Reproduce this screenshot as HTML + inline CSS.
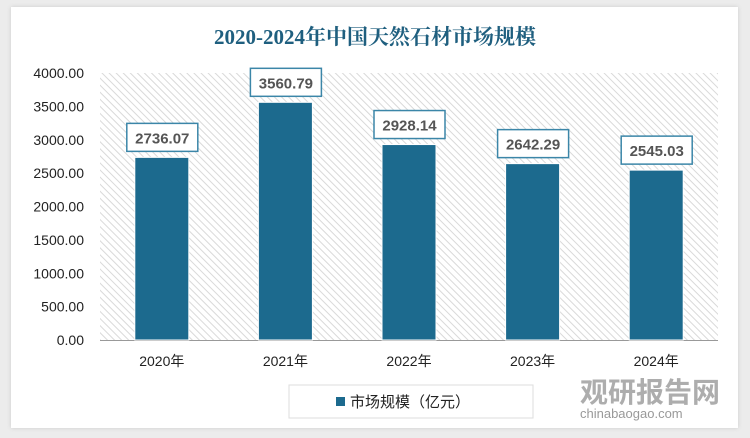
<!DOCTYPE html>
<html><head><meta charset="utf-8"><style>
body{margin:0;width:750px;height:438px;background:#ececec;overflow:hidden;font-family:"Liberation Sans","Noto Sans CJK SC",sans-serif}
#card{position:absolute;left:11px;top:7px;width:727px;height:421px;background:#fff;box-shadow:0 0 4px #ccc}
</style></head><body>
<div id="card"></div>
<svg id="c" width="750" height="438" style="position:absolute;left:0;top:0">
<defs><pattern id="h" width="5" height="5" patternUnits="userSpaceOnUse" patternTransform="rotate(-45)"><rect width="5" height="5" fill="#fff"/><line x1="0" y1="0" x2="0" y2="5" stroke="#d9d9d9" stroke-width="2"/></pattern></defs>
<text x="375" y="44" text-anchor="middle" font-size="21" font-weight="bold" fill="#1f5f7f" font-family="'Liberation Serif','Noto Serif CJK SC',serif">2020-2024年中国天然石材市场规模</text>
<rect x="100" y="73" width="618" height="267" fill="url(#h)"/>
<line x1="100" y1="340.5" x2="718" y2="340.5" stroke="#999"/>
<g id="bars"></g>
<rect x="289" y="385" width="244" height="33" fill="#fff" stroke="#ddd"/>
<rect x="336" y="397" width="9" height="9" fill="#1c6a8e"/>
<text x="350" y="407" font-size="15" fill="#222">市场规模（亿元）</text>
<text x="580" y="402" font-size="28" font-weight="bold" fill="#999" opacity="0.8">观研报告网</text>
<text x="580" y="418" font-size="13" fill="#999">chinabaogao.com</text>
</svg>
<script>
const categories=["2020年","2021年","2022年","2023年","2024年"];
const values=[2736.07,3560.79,2928.14,2642.29,2545.03];
const ticks=[0,500,1000,1500,2000,2500,3000,3500,4000];
const ns="http://www.w3.org/2000/svg";
const svg=document.getElementById('c'),g=document.getElementById('bars');
const y=v=>340-v*267/4000, x0=100, band=618/categories.length;
function mk(t,a,p){const e=document.createElementNS(ns,t);for(const k in a)e.setAttribute(k,a[k]);(p||g).appendChild(e);return e;}
ticks.forEach(t=>{const e=mk('text',{x:84,y:y(t)+5,'text-anchor':'end','font-size':14,fill:'#222'});


e.textContent=t.toFixed(2);});
categories.forEach((c,i)=>{const cx=x0+band*(i+0.5),v=values[i];
const b=mk('rect',{x:cx-27,y:y(v),width:54,height:340-y(v),fill:'#1c6a8e',stroke:'#fff','stroke-width':1});


const bx=mk('rect',{x:cx-35,y:y(v)-34,width:71,height:28,fill:'#fff',stroke:'#3b86a8','stroke-width':1.5});


const t=mk('text',{x:cx+0.5,y:y(v)-14,'text-anchor':'middle','font-size':15,'font-weight':'bold',fill:'#555'});


t.textContent=v.toFixed(2);
const l=mk('text',{x:cx,y:366,'text-anchor':'middle','font-size':14,fill:'#222'});


l.textContent=c;});
</script>
</body></html>
